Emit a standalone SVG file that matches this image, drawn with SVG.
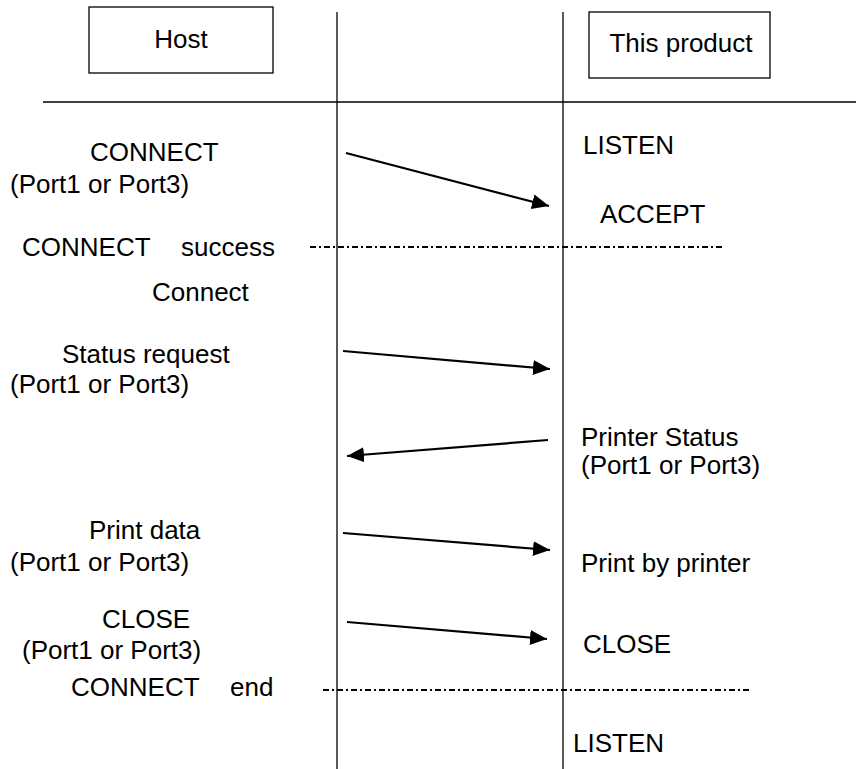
<svg xmlns="http://www.w3.org/2000/svg" width="856" height="769" viewBox="0 0 856 769">
<style>
  text { font-family: "Liberation Sans", Arial, sans-serif; font-size: 26px; fill: #000; }
  .box { fill: #fff; stroke: #000; stroke-width: 1.3; }
  .life { stroke: #000; stroke-width: 1.3; fill: none; }
  .msg { stroke: #000; stroke-width: 2.2; fill: none; marker-end: url(#ah); }
  .dd { stroke: #000; stroke-width: 1.8; fill: none; stroke-dasharray: 6 3 2 3; }
</style>
<defs>
  <marker id="ah" markerUnits="userSpaceOnUse" markerWidth="19" markerHeight="16" refX="17" refY="7.5" orient="auto">
    <path d="M0,0 L17,7.5 L0,15 z" fill="#000"/>
  </marker>
</defs>
<rect width="856" height="769" fill="#fff"/>
<g id="frame">
  <line class="life" x1="43" y1="102" x2="856" y2="102"/>
  <line class="life" x1="337" y1="12" x2="337" y2="769"/>
  <line class="life" x1="563" y1="12" x2="563" y2="769"/>
</g>
<g id="host">
  <rect class="box" x="89" y="7" width="184" height="66"/>
  <text x="181" y="48" text-anchor="middle">Host</text>
</g>
<g id="product">
  <rect class="box" x="589" y="12" width="181" height="66"/>
  <text x="681" y="52" text-anchor="middle">This product</text>
</g>
<g id="connectors">
  <line class="msg" x1="346" y1="153" x2="549" y2="206"/>
  <line class="msg" x1="343" y1="351" x2="550" y2="369"/>
  <line class="msg" x1="548" y1="440" x2="347" y2="456"/>
  <line class="msg" x1="343" y1="533" x2="550" y2="550"/>
  <line class="msg" x1="347" y1="622" x2="547" y2="639"/>
  <line class="dd" x1="310" y1="247" x2="722" y2="247"/>
  <line class="dd" x1="323" y1="690" x2="750" y2="690"/>
</g>
<g id="host-labels">
  <text x="90" y="161">CONNECT</text>
  <text x="10" y="193">(Port1 or Port3)</text>
  <text y="256"><tspan x="22">CONNECT</tspan><tspan x="181">success</tspan></text>
  <text x="152" y="301">Connect</text>
  <text x="62" y="363">Status request</text>
  <text x="10" y="393">(Port1 or Port3)</text>
  <text x="89" y="539">Print data</text>
  <text x="10" y="571">(Port1 or Port3)</text>
  <text x="102" y="628">CLOSE</text>
  <text x="22" y="659">(Port1 or Port3)</text>
  <text y="696"><tspan x="71">CONNECT</tspan><tspan x="230">end</tspan></text>
</g>
<g id="product-labels">
  <text x="583" y="154">LISTEN</text>
  <text x="600" y="223">ACCEPT</text>
  <text x="581" y="446">Printer Status</text>
  <text x="581" y="474">(Port1 or Port3)</text>
  <text x="581" y="572">Print by printer</text>
  <text x="583" y="653">CLOSE</text>
  <text x="573" y="752">LISTEN</text>
</g>
</svg>
